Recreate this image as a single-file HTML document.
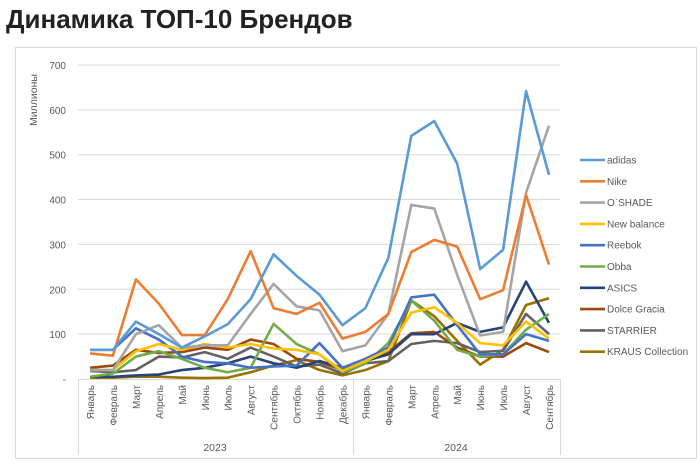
<!DOCTYPE html>
<html><head><meta charset="utf-8"><style>
body{margin:0;background:#fff;width:700px;height:460px;overflow:hidden;font-family:"Liberation Sans",sans-serif}
</style></head><body>
<svg id="s" width="700" height="460" xmlns="http://www.w3.org/2000/svg" font-family="Liberation Sans, sans-serif">
<text x="6" y="28" font-size="26" font-weight="bold" fill="#222">Динамика ТОП-10 Брендов</text>
<rect x="15.5" y="47.5" width="681" height="411" fill="none" stroke="#d9d9d9"/>
</svg>
<script>
const s=document.getElementById('s'),NS='http://www.w3.org/2000/svg';
function el(t,a,txt){const e=document.createElementNS(NS,t);for(const k in a)e.setAttribute(k,a[k]);if(txt!==undefined)e.textContent=txt;s.appendChild(e);return e;}
const Y=v=>379-v*0.4486,X=i=>90+i*22.95;
for(let v=100;v<=700;v+=100){el('line',{x1:78,x2:560,y1:Y(v),y2:Y(v),stroke:'#d9d9d9','stroke-width':1});}
for(let v=0;v<=700;v+=100)el('text',{x:66,y:Y(v)+4,'font-size':10,fill:'#595959','text-anchor':'end'},v==0?'-':v);
el('text',{transform:'translate(37,100) rotate(-90)','font-size':10.5,fill:'#595959','text-anchor':'middle'},'Миллионы');
el('line',{x1:78,x2:560,y1:379.5,y2:379.5,stroke:'#d9d9d9'});
[78,353,560].forEach(x=>el('line',{x1:x+.5,x2:x+.5,y1:379,y2:455,stroke:'#d9d9d9'}));
const m=['Январь','Февраль','Март','Апрель','Май','Июнь','Июль','Август','Сентябрь','Октябрь','Ноябрь','Декабрь'];
for(let i=0;i<21;i++){const n=m[i<12?i:i-12];el('text',{transform:`translate(${X(i)+4},385) rotate(-90)`,'font-size':10,fill:'#595959','text-anchor':'end'},n);}
el('text',{x:215,y:451,'font-size':10.5,fill:'#595959','text-anchor':'middle'},'2023');
el('text',{x:456,y:451,'font-size':10.5,fill:'#595959','text-anchor':'middle'},'2024');
const D=[
['adidas','#5B9BD5',[65,65,128,100,70,95,122,178,278,230,188,120,158,270,542,575,480,245,288,642,455]],
['Nike','#ED7D31',[57,52,222,168,98,98,178,285,158,145,170,90,105,145,283,310,295,178,198,410,255]],
["O`SHADE",'#A5A5A5',[20,20,100,120,70,75,75,145,212,162,153,62,75,145,388,380,232,97,105,415,565]],
['New balance','#FFC000',[20,20,62,78,65,78,70,78,68,65,55,18,40,65,148,160,125,80,75,128,90]],
['Reebok','#4472C4',[65,65,113,88,50,38,35,25,28,30,80,25,45,70,182,188,120,55,55,100,85]],
['Obba','#70AD47',[5,12,50,62,45,25,15,25,123,78,55,15,35,80,175,130,65,50,55,110,145]],
['ASICS','#264478',[5,5,8,10,20,25,35,50,35,25,40,25,40,55,100,100,125,105,115,217,125]],
['Dolce Gracia','#9E480E',[25,30,65,58,60,70,65,88,78,45,38,20,45,60,102,105,70,50,50,80,60]],
['STARRIER','#636363',[18,15,20,50,48,60,45,70,50,28,32,12,35,40,78,85,80,60,63,145,100]],
['KRAUS Collection','#997300',[3,3,5,5,3,2,3,15,30,42,20,8,20,40,175,140,85,32,65,165,180]]];
D.slice().reverse().forEach(d=>el('polyline',{points:d[2].map((v,i)=>X(i)+','+Y(v)).join(' '),fill:'none',stroke:d[1],'stroke-width':2.6,'stroke-linejoin':'round'}));
D.forEach((d,i)=>{const y=160+i*21.3;el('line',{x1:580,x2:605,y1:y,y2:y,stroke:d[1],'stroke-width':2.6});el('text',{x:607,y:y+3.5,'font-size':10,fill:'#595959'},d[0]);});
</script>
</body></html>
